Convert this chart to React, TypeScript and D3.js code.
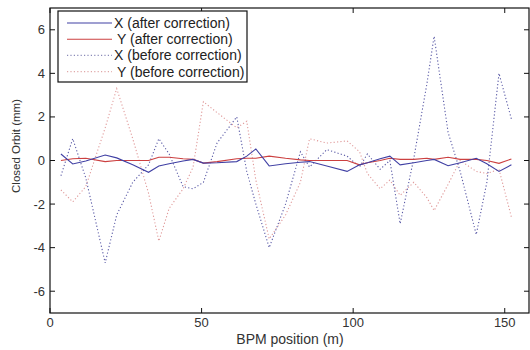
import React from "react";
import * as d3 from "d3";

const positions = [3.6, 7.5, 11.8, 18.2, 22, 27.3, 32.5, 35.9, 39.3, 43.9, 47.2, 50.6, 55.1, 61.6, 64.9, 67.9, 72.3, 77.7, 82.6, 85.6, 91.3, 98, 102.1, 104.7, 108.9, 112.1, 115.5, 120, 124.3, 126.7, 131.3, 135.3, 140.6, 144.1, 148.1, 152.2];

const xAfter = [0.3, -0.16, -0.02, 0.25, 0.12, -0.2, -0.54, -0.25, -0.15, -0.02, 0.05, -0.12, -0.1, -0.05, 0.2, 0.53, -0.25, -0.15, -0.08, -0.05, -0.25, -0.5, -0.2, -0.1, 0.08, 0.2, -0.2, -0.1, 0.0, 0.05, -0.24, -0.1, 0.1, -0.15, -0.5, -0.2];

const yAfter = [0.0, 0.08, 0.1, -0.05, 0.0, 0.0, 0.0, 0.15, 0.15, 0.08, 0.05, -0.12, -0.05, 0.08, 0.1, 0.1, 0.2, 0.1, 0.03, 0.0, 0.0, 0.0, -0.2, -0.1, 0.0, 0.1, 0.05, 0.05, 0.1, 0.05, 0.15, 0.05, 0.05, 0.0, -0.13, 0.07];

const xBefore = [-0.7, 1.0, -0.8, -4.7, -2.5, -1.0, -0.2, 1.0, 0.3, -1.2, -1.3, -1.0, 0.8, 2.0, -0.5, -2.0, -4.0, -2.0, 0.4, -0.3, 0.5, 0.2, -0.3, 0.3, -0.4, 0.0, -2.9, 0.1, 3.5, 5.7, 1.3, -0.5, -3.4, -1.0, 4.0, 1.9];

const yBefore = [-1.35, -1.9, -1.2, 1.5, 3.3, 1.0, -1.5, -3.7, -2.2, -1.3, -0.3, 2.7, 2.2, 1.5, 1.8, -0.9, -3.6, -2.5, -1.0, 1.0, 0.8, 0.9, 0.4, -0.6, -1.3, -0.9, -1.6, -1.0, -1.7, -2.3, -1.1, 0.0, -0.5, -0.6, -0.4, -2.6];

const xTicks = [0, 50, 100, 150];
const yTicks = [-6, -4, -2, 0, 2, 4, 6];
const legendLabels = ["X (after correction)", "Y (after correction)", "X (before correction)", "Y (before correction)"];

const W = 530, H = 350;
const L = 50, R = 529, T = 8, B = 313;

export default function App() {
  const x = d3.scaleLinear().domain([0, 158]).range([L, R]);
  const y = d3.scaleLinear().domain([-7, 7]).range([B, T]);
  const mk = (vals: number[]) =>
    d3.line<number>().x((_, i) => x(positions[i])).y((v) => y(v))(vals) || "";

  const series = [
    { vals: yBefore, color: "#e09a9a", dash: "1.2,2.2" },
    { vals: xBefore, color: "#5a5aa6", dash: "1.2,2.2" },
    { vals: yAfter, color: "#cc4040", dash: undefined },
    { vals: xAfter, color: "#4040a4", dash: undefined },
  ];
  const legendStyles = [
    { color: "#4040a4", dash: undefined },
    { color: "#cc4040", dash: undefined },
    { color: "#8a8ab8", dash: "1.2,2.2" },
    { color: "#e0a8a8", dash: "1.2,2.2" },
  ];
  const font = "'Liberation Sans', Arial, sans-serif";

  return (
    <svg width={W} height={H} style={{ position: "absolute", left: 0, top: 0, background: "#fff" }}>
      <rect x={0} y={0} width={W} height={H} fill="#fff" />
      <defs>
        <clipPath id="plot">
          <rect x={L} y={T} width={R - L} height={B - T} />
        </clipPath>
      </defs>
      <g clipPath="url(#plot)">
        {series.map((s, i) => (
          <path key={i} d={mk(s.vals)} fill="none" stroke={s.color} strokeWidth={1.1} strokeDasharray={s.dash} />
        ))}
      </g>
      <rect x={L} y={T} width={R - L} height={B - T} fill="none" stroke="#111" strokeWidth={1.2} />
      {xTicks.map((t) => (
        <g key={"x" + t}>
          <line x1={x(t)} x2={x(t)} y1={B} y2={B - 5} stroke="#111" />
          <line x1={x(t)} x2={x(t)} y1={T} y2={T + 5} stroke="#111" />
          <text x={x(t)} y={B + 14} textAnchor="middle" fontSize={13} fontFamily={font} fill="#333">{t}</text>
        </g>
      ))}
      {yTicks.map((t) => (
        <g key={"y" + t}>
          <line x1={L} x2={L + 5} y1={y(t)} y2={y(t)} stroke="#111" />
          <line x1={R} x2={R - 5} y1={y(t)} y2={y(t)} stroke="#111" />
          <text x={L - 5} y={y(t) + 4.5} textAnchor="end" fontSize={13} fontFamily={font} fill="#333">{t}</text>
        </g>
      ))}
      <text x={290} y={344} textAnchor="middle" fontSize={14} fontFamily={font} fill="#333">BPM position (m)</text>
      <text transform="translate(20,146) rotate(-90)" textAnchor="middle" fontSize={11.5} fontFamily={font} fill="#333">Closed Orbit (mm)</text>
      <g>
        <rect x={58} y={11} width={189} height={71} fill="#fff" stroke="#111" strokeWidth={1.2} />
        {legendLabels.map((lab, i) => {
          const yy = 23 + i * 16.2;
          return (
            <g key={lab}>
              <line x1={67} x2={112} y1={yy} y2={yy} stroke={legendStyles[i].color} strokeWidth={1.1} strokeDasharray={legendStyles[i].dash} />
              <text x={i % 2 === 1 ? 117 : 114} y={yy + 5} fontSize={14} fontFamily={font} fill="#222">{lab}</text>
            </g>
          );
        })}
      </g>
    </svg>
  );
}
